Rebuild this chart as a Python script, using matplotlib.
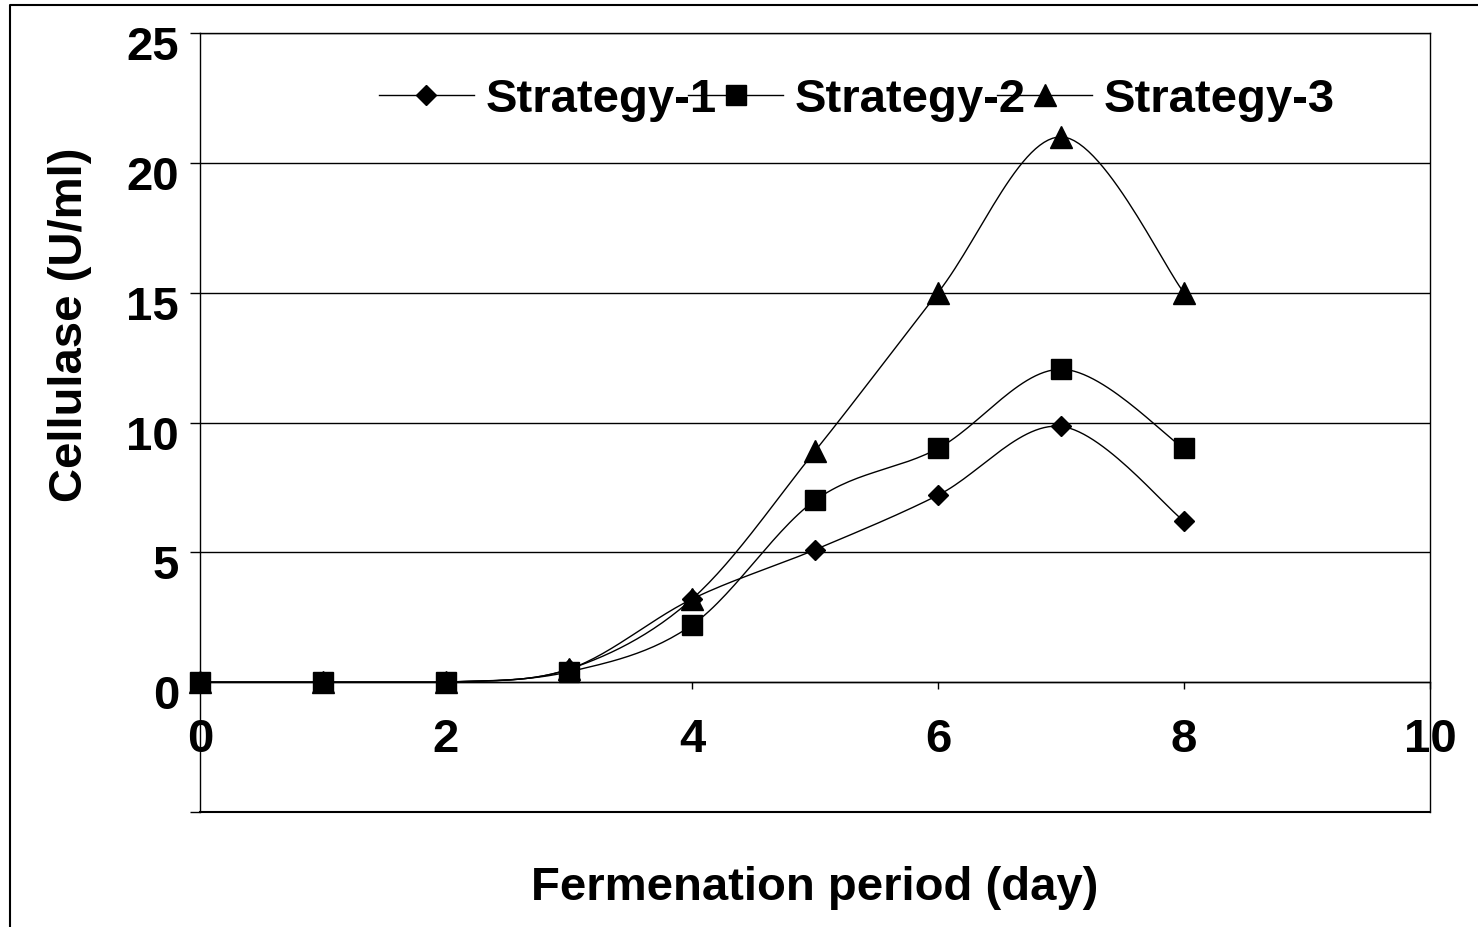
import numpy as np
import matplotlib
matplotlib.use("Agg")
import matplotlib.pyplot as plt
from matplotlib.lines import Line2D
from matplotlib.transforms import ScaledTranslation

# fermentation day vs cellulase activity (U/ml)
days = [0, 1, 2, 3, 4, 5, 6, 7, 8]
strategy_1 = [0, 0, 0, 0.5, 3.2, 5.1, 7.2, 9.85, 6.2]
strategy_2 = [0, 0, 0, 0.4, 2.2, 7.0, 9.0, 12.05, 9.0]
strategy_3 = [0, 0, 0, 0.5, 3.2, 8.9, 15.0, 21.0, 15.0]

series_names = ["Strategy-1", "Strategy-2", "Strategy-3"]
markers = ["D", "s", "^"]
marker_sizes = [10.5, 15, 15.5]

x_ticks = [0, 2, 4, 6, 8, 10]
y_ticks = [-5, 0, 5, 10, 15, 20, 25]

plt.rcParams["font.family"] = ["Liberation Sans", "DejaVu Sans"]
plt.rcParams["font.weight"] = "bold"


def smooth(x, y, n=30):
    # piecewise cubic Bezier through the points (spreadsheet-style smoothed line)
    p = np.column_stack([x, y]).astype(float)
    out = [p[0]]
    t = np.linspace(0, 1, n)[1:, None]
    for i in range(len(p) - 1):
        prev = p[i - 1] if i > 0 else p[i]
        nxt = p[i + 2] if i + 2 < len(p) else p[i + 1]
        c1 = p[i] + (p[i + 1] - prev) / 6
        c2 = p[i + 1] - (nxt - p[i]) / 6
        lo, hi = sorted([p[i][1], p[i + 1][1]])
        # keep flat stretches flat
        if hi - lo < 1e-9:
            c1[1] = c2[1] = lo
        seg = ((1 - t) ** 3 * p[i] + 3 * (1 - t) ** 2 * t * c1
               + 3 * (1 - t) * t ** 2 * c2 + t ** 3 * p[i + 1])
        out.extend(seg)
    out = np.array(out)
    return out[:, 0], out[:, 1]


fig = plt.figure(figsize=(14.78, 9.27), dpi=100)
ax = fig.add_axes([200 / 1478, 1 - 812 / 927, 1230 / 1478, 779 / 927])

handles = []
for vals, name, m, ms in zip([strategy_1, strategy_2, strategy_3],
                             series_names, markers, marker_sizes):
    sx, sy = smooth(days, vals)
    ax.plot(sx, sy, color="black", lw=1, zorder=3)
    ax.plot(days, vals, ls="none", marker=m, ms=ms, color="black", zorder=4,
            clip_on=False)
    handles.append(Line2D([], [], color="black", lw=1, marker=m, ms=ms))

ax.set_xlim(0, 10)
ax.set_ylim(-5, 25)
ax.set_xticks(x_ticks)
ax.set_yticks(y_ticks)
ax.set_yticklabels(["" if v < 0 else str(v) for v in y_ticks])

ax.grid(axis="y", color="black", lw=1)
ax.set_axisbelow(True)
ax.spines["bottom"].set_position(("data", 0))
for s in ax.spines.values():
    s.set_linewidth(1)
ax.axhline(-5, color="black", lw=1.5, clip_on=False)

ax.tick_params(axis="y", direction="out", length=7, width=1, pad=8, labelsize=34)
ax.tick_params(axis="x", direction="out", length=5, width=1, pad=21, labelsize=34)

# y labels sit a little below their gridlines
shift = ScaledTranslation(0, -0.10, fig.dpi_scale_trans)
for lbl in ax.get_yticklabels():
    lbl.set_transform(lbl.get_transform() + shift)

fig.text(70 / 1478, 1 - 325 / 927, "Cellulase (U/ml)", rotation=90,
         ha="center", va="center", fontsize=34, fontweight="bold")
fig.text(815 / 1478, 1 - 888 / 927, "Fermenation period (day)",
         ha="center", va="center", fontsize=34, fontweight="bold")

fig.legend(handles, series_names, loc="center", ncol=3, frameon=False,
           bbox_to_anchor=(857 / 1478, 1 - 100 / 927), fontsize=34,
           handlelength=2.0, handletextpad=0.25, columnspacing=-0.6,
           borderaxespad=0, borderpad=0)

# outer chart border (top and left edges)
fig.add_artist(Line2D([10 / 1478, 10 / 1478, 1], [0, 1 - 5 / 927, 1 - 5 / 927],
                      transform=fig.transFigure, color="black", lw=1.5))

fig.savefig("out.png", dpi=100)
